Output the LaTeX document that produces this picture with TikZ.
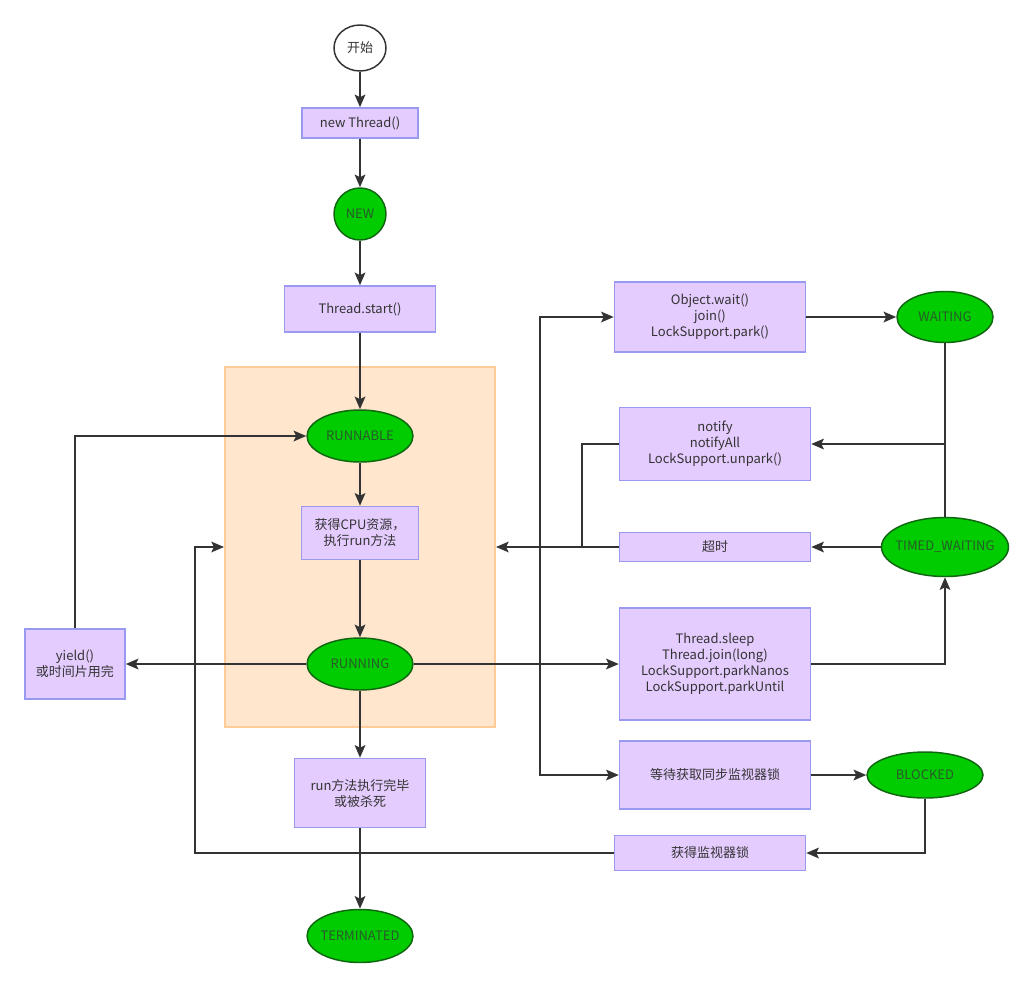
\documentclass[tikz,border=0pt]{standalone}
\usepackage{fontspec}
\setmainfont{Noto Sans CJK SC}
\usetikzlibrary{arrows.meta,shapes.geometric}
\definecolor{lineC}{HTML}{333333}
\definecolor{boxFill}{HTML}{E5CCFF}
\definecolor{boxLine}{HTML}{9999F0}
\definecolor{grnFill}{HTML}{00CC00}
\definecolor{grnLine}{HTML}{116611}
\definecolor{grnText}{HTML}{2A5A2A}
\definecolor{grpFill}{HTML}{FFE6CC}
\definecolor{grpLine}{HTML}{FFCC99}
\tikzset{
  txt/.style={font=\fontsize{9.75}{12}\selectfont, text=lineC, align=center, inner sep=0pt},
  box/.style={txt, rectangle, draw=boxLine, fill=boxFill, line width=1.1pt},
  state/.style={txt, ellipse, draw=grnLine, fill=grnFill, line width=1.1pt, text=grnText, inner xsep=-12pt, inner ysep=-4pt},
  startst/.style={txt, ellipse, draw=lineC, fill=white, line width=1.1pt},
  arr/.style={draw=lineC, line width=1.5pt, -{Stealth[length=9.5pt,width=8pt,inset=2pt]}},
  ln/.style={draw=lineC, line width=1.5pt}
}
\begin{document}
\begin{tikzpicture}[x=0.75pt,y=-0.75pt]
\useasboundingbox (0,0) rectangle (1033,986);
% group background
\node[rectangle, draw=grpLine, fill=grpFill, line width=1.5pt, minimum width=202.5pt, minimum height=270pt, inner sep=0pt] (grp) at (360,547) {};
% main column
\node[startst, minimum width=39pt, minimum height=34.5pt] (start) at (360,48) {开始};
\node[box, minimum width=87pt, minimum height=22.5pt] (newt) at (360,123) {new Thread()};
\node[state, minimum width=39pt, minimum height=39pt] (new) at (360,214) {NEW};
\node[box, minimum width=113.25pt, minimum height=34.5pt] (tstart) at (360,309) {Thread.start()};
\node[state, minimum width=79.5pt, minimum height=39pt] (runnable) at (360,436) {RUNNABLE};
\node[box, minimum width=87.75pt, minimum height=39.75pt] (cpu) at (360,533) {获得CPU资源，\\执行run方法};
\node[state, minimum width=79.5pt, minimum height=39pt] (running) at (360,664) {RUNNING};
\node[box, minimum width=98.25pt, minimum height=51.75pt] (done) at (360,793) {run方法执行完毕\\或被杀死};
\node[state, minimum width=79.5pt, minimum height=39.75pt] (term) at (360,936) {TERMINATED};
\node[box, minimum width=75pt, minimum height=52.5pt] (yield) at (75,664) {yield()\\或时间片用完};
% right side
\node[box, minimum width=143.25pt, minimum height=52.5pt] (wait) at (710,317) {Object.wait()\\join()\\LockSupport.park()};
\node[state, minimum width=72pt, minimum height=38.25pt] (waiting) at (945,317) {WAITING};
\node[box, minimum width=143.25pt, minimum height=54.75pt] (notify) at (715,444) {notify\\notifyAll\\LockSupport.unpark()};
\node[box, minimum width=143.25pt, minimum height=21.75pt] (timeout) at (715,547) {超时};
\node[state, minimum width=95.25pt, minimum height=44.25pt, inner xsep=-18pt] (timed) at (945,547) {TIMED\_WAITING};
\node[box, minimum width=143.25pt, minimum height=84pt] (sleep) at (715,664) {Thread.sleep\\Thread.join(long)\\LockSupport.parkNanos\\LockSupport.parkUntil};
\node[box, minimum width=143.25pt, minimum height=51pt] (block) at (715,775) {等待获取同步监视器锁};
\node[state, minimum width=87pt, minimum height=34.5pt] (blocked) at (925,775) {BLOCKED};
\node[box, minimum width=143.25pt, minimum height=26.25pt] (getlock) at (710,853) {获得监视器锁};
% junctions
\coordinate (j1) at (540,664);
\coordinate (j2) at (945,444);
\coordinate (j3) at (582,547);
\coordinate (j4) at (195,853);
% main column connectors
\draw[arr] (start) -- (newt);
\draw[arr] (newt) -- (new);
\draw[arr] (new) -- (tstart);
\draw[arr] (tstart) -- (runnable);
\draw[arr] (runnable) -- (cpu);
\draw[arr] (cpu) -- (running);
\draw[arr] (running) -- (done);
\draw[arr] (done) -- (term);
\draw[arr] (running.west) -- (yield.east);
\draw[arr] (yield.north) |- (runnable.west);
% right side connectors
\draw[arr] (running.east) -- (sleep.west);
\draw[arr] (j1) |- (wait.west);
\draw[arr] (j1) |- (block.west);
\draw[arr] (wait.east) -- (waiting.west);
\draw[arr] (waiting.south) |- (notify.east);
\draw[ln] (timed.north) -- (j2);
\draw[arr] (timed.west) -- (timeout.east);
\draw[arr] (timeout.west) -- (grp.east);
\draw[ln] (notify.west) -| (j3);
\draw[arr] (sleep.east) -| (timed.south);
\draw[arr] (block.east) -- (blocked.west);
\draw[arr] (blocked.south) |- (getlock.east);
\draw[arr] (getlock.west) -- (j4) |- (grp.west);
\end{tikzpicture}
\end{document}
